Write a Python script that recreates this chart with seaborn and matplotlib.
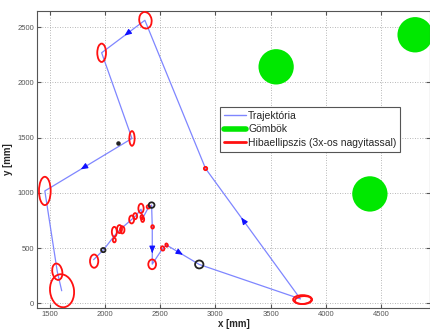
import numpy as np
import matplotlib
matplotlib.use('Agg')
import matplotlib.pyplot as plt
from matplotlib.patches import Ellipse, Circle
from matplotlib.lines import Line2D
import seaborn as sns

# Trajectory points (mm), in order of travel
traj_x = [1895, 1983, 2083, 2140, 2240, 2275, 2325, 2340, 2395, 2421, 2427, 2427,
          2521, 2557, 2853, 3770, 2910, 2360, 1968, 2243, 1453, 1566, 1606]
traj_y = [395, 482, 610, 672, 759, 789, 852, 770, 873, 889, 692, 355,
          497, 527, 352, 40, 1220, 2561, 2267, 1492, 1017, 286, 114]

# Direction arrows: segment index and fraction along it
arrow_seg = [10, 13, 15, 17, 19]
arrow_frac = [0.6, 0.4, 0.6, 0.4, 0.55]

# Balls (Gömbök): centres and radius (mm)
ball_x = [3550, 4810, 4400]
ball_y = [2140, 2430, 990]
ball_r = 160

# Error ellipses (3x magnified): centre, width, height, angle
ell_x = [1609, 1566, 1453, 2243, 1968, 2365, 3790, 3795, 1900, 2426, 2083, 2083,
         2130, 2155, 2240, 2272, 2325, 2340, 2333, 2391, 2430, 2910, 2521, 2557]
ell_y = [114, 286, 1017, 1492, 2267, 2561, 34, 30, 382, 353, 647, 572,
         672, 665, 759, 789, 859, 759, 780, 873, 692, 1220, 497, 527]
ell_w = [217, 90, 106, 48, 79, 112, 172, 150, 75, 70, 45, 27,
         45, 40, 45, 35, 48, 27, 25, 30, 25, 30, 30, 22]
ell_h = [300, 150, 256, 133, 166, 151, 81, 70, 120, 88, 90, 40,
         72, 65, 72, 55, 85, 45, 40, 30, 30, 30, 40, 30]
ell_a = [8, 10, 0, 0, 0, 10, 0, 5, 0, 0, 0, 0,
         0, 0, 0, 0, 0, 0, 0, 0, 0, 0, 20, 20]

# Black measurement circles
blk_x = [1983, 2421, 2853]
blk_y = [482, 889, 352]
blk_d = [38, 50, 72]

# Small black dot
dot_x = [2119]
dot_y = [1455]

sns.set_style("whitegrid")
plt.rcParams['font.family'] = ['Liberation Sans', 'DejaVu Sans']

fig, ax = plt.subplots(figsize=(4.31, 3.29), dpi=100)
fig.subplots_adjust(left=37/431, right=430/431, top=1-11/329, bottom=1-308/329)

# balls
for bx, by in zip(ball_x, ball_y):
    ax.add_patch(Circle((bx, by), ball_r, facecolor='#00e800', edgecolor='none', zorder=2))

# trajectory
sns.lineplot(x=traj_x, y=traj_y, sort=False, estimator=None, color='#7f86ff',
             linewidth=0.9, ax=ax, zorder=3, legend=False)

# arrows
for s, f in zip(arrow_seg, arrow_frac):
    x0, y0 = traj_x[s], traj_y[s]
    x1, y1 = traj_x[s + 1], traj_y[s + 1]
    px, py = x0 + f * (x1 - x0), y0 + f * (y1 - y0)
    d = np.hypot(x1 - x0, y1 - y0)
    ux, uy = (x1 - x0) / d, (y1 - y0) / d
    ax.annotate('', xy=(px + ux * 35, py + uy * 35), xytext=(px - ux * 10, py - uy * 10),
                arrowprops=dict(arrowstyle='-|>,head_length=0.4,head_width=0.17',
                                color='#1010ff', lw=0.8), zorder=4)

# error ellipses
for x, y, w, h, a in zip(ell_x, ell_y, ell_w, ell_h, ell_a):
    ax.add_patch(Ellipse((x, y), w, h, angle=a, fill=False, edgecolor='#ff1010',
                         linewidth=1.3, zorder=5))

# black circles
for x, y, d in zip(blk_x, blk_y, blk_d):
    ax.add_patch(Ellipse((x, y), d * 1.05, d, fill=False, edgecolor='#222222',
                         linewidth=1.3, zorder=5))
ax.scatter(dot_x, dot_y, s=5, color='#222222', zorder=5)

ax.set_xlim(1382, 4945)
ax.set_ylim(-42, 2645)
ax.set_xticks([1500, 2000, 2500, 3000, 3500, 4000, 4500])
ax.set_yticks([0, 500, 1000, 1500, 2000, 2500])
ax.grid(True, color='#a0a0a0', linestyle=(0, (1, 2)), linewidth=0.6)
ax.tick_params(direction='in', length=3, labelsize=5.5, colors='#555555',
               top=True, right=True, bottom=True, left=True, pad=2)
for sp in ax.spines.values():
    sp.set_color('#555555')
    sp.set_linewidth(0.8)

ax.set_xlabel('x [mm]', fontsize=7, fontweight='bold', labelpad=1)
ax.set_ylabel('y [mm]', fontsize=7, fontweight='bold', labelpad=3)

handles = [Line2D([], [], color='#7f86ff', lw=1.0),
           Line2D([], [], color='#00e800', lw=4),
           Line2D([], [], color='#ff1010', lw=2)]
labels = ['Trajektória', 'Gömbök', 'Hibaellipszis (3x-os nagyitassal)']
leg = ax.legend(handles, labels, loc='upper left', bbox_to_anchor=(0.466, 0.677),
                fontsize=7.5, frameon=True, fancybox=False, framealpha=1,
                edgecolor='#555555', handlelength=2.1, handletextpad=0.25,
                labelspacing=0.35, borderpad=0.35, borderaxespad=0)
leg.get_frame().set_linewidth(0.8)

plt.savefig('out.png', dpi=100)
